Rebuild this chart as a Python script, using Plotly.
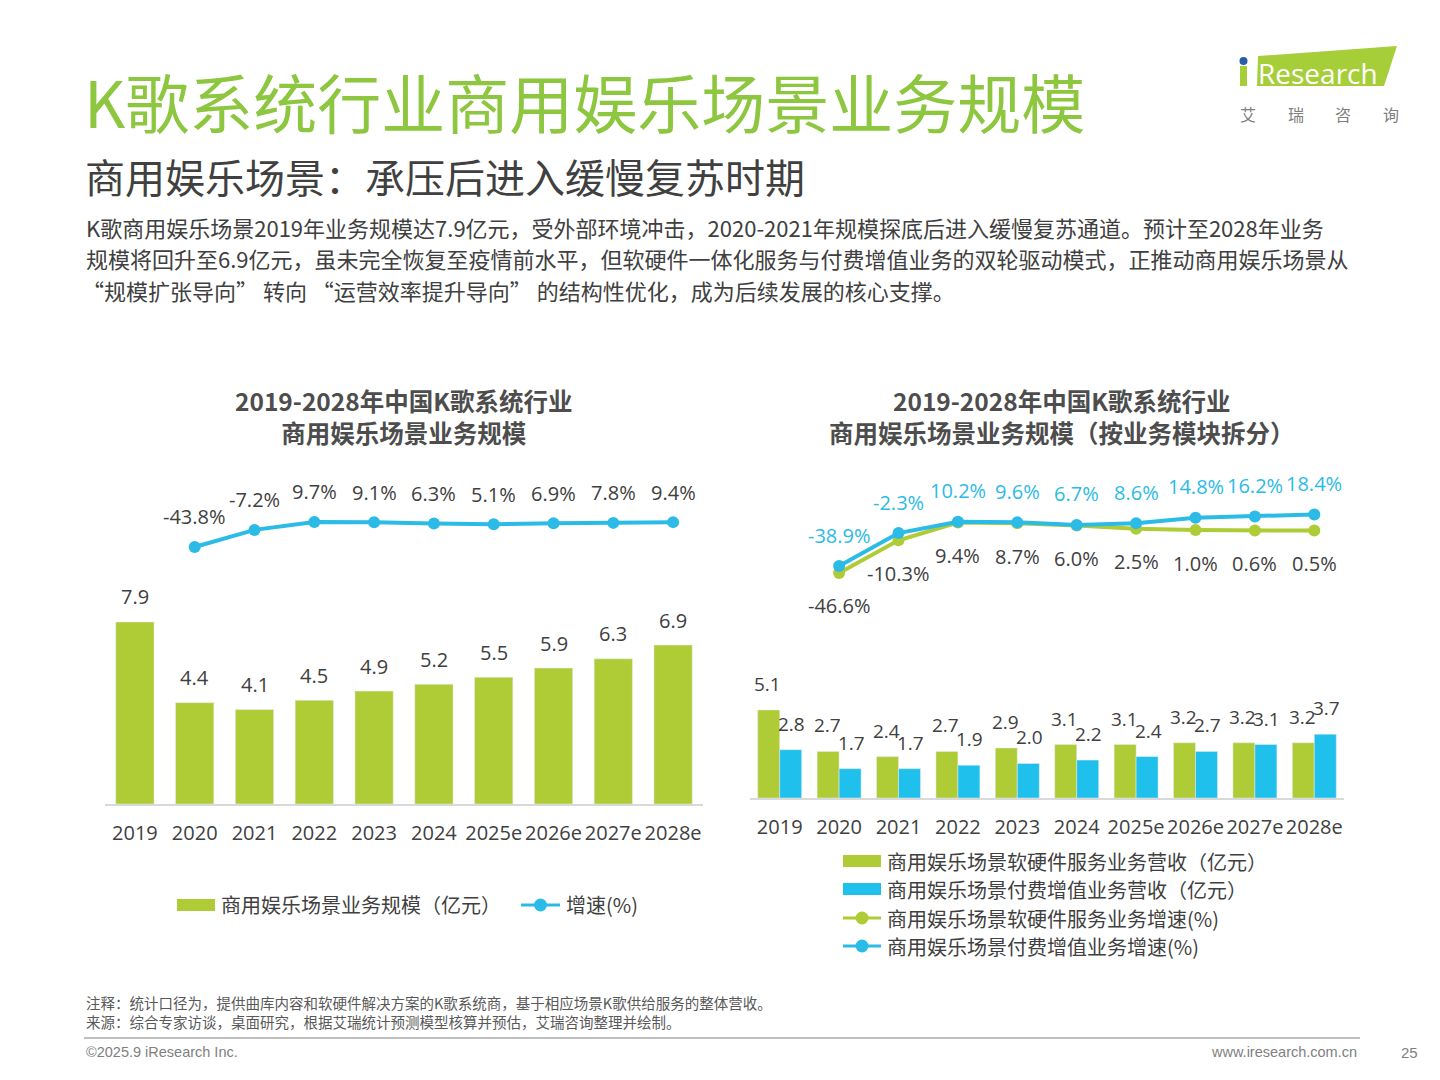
import plotly.graph_objects as go

W, H = 1440, 1080

# ---------------- data ----------------
years = ["2019", "2020", "2021", "2022", "2023", "2024", "2025e", "2026e", "2027e", "2028e"]
total_scale = [7.9, 4.4, 4.1, 4.5, 4.9, 5.2, 5.5, 5.9, 6.3, 6.9]
total_growth_years = years[1:]
total_growth = [-43.8, -7.2, 9.7, 9.1, 6.3, 5.1, 6.9, 7.8, 9.4]

hw_revenue = [5.1, 2.7, 2.4, 2.7, 2.9, 3.1, 3.1, 3.2, 3.2, 3.2]
vas_revenue = [2.8, 1.7, 1.7, 1.9, 2.0, 2.2, 2.4, 2.7, 3.1, 3.7]
hw_growth = [-46.6, -10.3, 9.4, 8.7, 6.0, 2.5, 1.0, 0.6, 0.5]
vas_growth = [-38.9, -2.3, 10.2, 9.6, 6.7, 8.6, 14.8, 16.2, 18.4]
growth_years_r = years[1:]

title = "K歌系统行业商用娱乐场景业务规模"
subtitle = "商用娱乐场景：承压后进入缓慢复苏时期"
paragraph = [
    "K歌商用娱乐场景2019年业务规模达7.9亿元，受外部环境冲击，2020-2021年规模探底后进入缓慢复苏通道。预计至2028年业务",
    "规模将回升至6.9亿元，虽未完全恢复至疫情前水平，但软硬件一体化服务与付费增值业务的双轮驱动模式，正推动商用娱乐场景从",
    "“规模扩张导向” 转向 “运营效率提升导向” 的结构性优化，成为后续发展的核心支撑。",
]
left_title = "2019-2028年中国K歌系统行业<br>商用娱乐场景业务规模"
right_title = "2019-2028年中国K歌系统行业<br>商用娱乐场景业务规模（按业务模块拆分）"
left_legend = ["商用娱乐场景业务规模（亿元）", "增速(%)"]
right_legend = ["商用娱乐场景软硬件服务业务营收（亿元）", "商用娱乐场景付费增值业务营收（亿元）",
                "商用娱乐场景软硬件服务业务增速(%)", "商用娱乐场景付费增值业务增速(%)"]
note1 = "注释：统计口径为，提供曲库内容和软硬件解决方案的K歌系统商，基于相应场景K歌供给服务的整体营收。"
note2 = "来源：综合专家访谈，桌面研究，根据艾瑞统计预测模型核算并预估，艾瑞咨询整理并绘制。"

# ---------------- styles ----------------
GREEN = "#AFCC37"
BLUE = "#1FC0EC"
LBLUE = "#2BBBE6"
DARK = "#404040"
FONT = "Open Sans, Noto Sans CJK SC, sans-serif"
CJK = "Noto Sans CJK SC, sans-serif"


def px(x):
    return x / W


def py(y):
    return 1 - y / H


idx = {c: i for i, c in enumerate(years)}

fig = go.Figure()

# left chart
fig.add_trace(go.Bar(x=years, y=total_scale, marker_color=GREEN, xaxis="x", yaxis="y",
                     name=left_legend[0], showlegend=False, width=0.64))
fig.add_trace(go.Scatter(x=total_growth_years, y=total_growth, mode="lines+markers",
                         line=dict(color=LBLUE, width=4), marker=dict(size=12, color=LBLUE),
                         xaxis="x", yaxis="y2", name=left_legend[1], showlegend=False))
# right chart
fig.add_trace(go.Bar(x=years, y=hw_revenue, marker_color=GREEN, xaxis="x2", yaxis="y3",
                     name=right_legend[0], showlegend=False, width=0.37, offset=-0.37))
fig.add_trace(go.Bar(x=years, y=vas_revenue, marker_color=BLUE, xaxis="x2", yaxis="y3",
                     name=right_legend[1], showlegend=False, width=0.37, offset=0.0))
fig.add_trace(go.Scatter(x=growth_years_r, y=hw_growth, mode="lines+markers",
                         line=dict(color=GREEN, width=4), marker=dict(size=12, color=GREEN),
                         xaxis="x2", yaxis="y4", name=right_legend[2], showlegend=False))
fig.add_trace(go.Scatter(x=growth_years_r, y=vas_growth, mode="lines+markers",
                         line=dict(color=LBLUE, width=4), marker=dict(size=12, color=LBLUE),
                         xaxis="x2", yaxis="y4", name=right_legend[3], showlegend=False))

ann = []
# bar labels left
for c, v in zip(years, total_scale):
    ann.append(dict(x=idx[c], y=v, xref="x", yref="y", text=f"{v:.1f}", showarrow=False,
                    yanchor="middle", yshift=25, font=dict(size=20, color=DARK, family=FONT)))
for c, v in zip(total_growth_years, total_growth):
    ann.append(dict(x=idx[c], y=v, xref="x", yref="y2", text=f"{v:.1f}%", showarrow=False,
                    yanchor="middle", yshift=30, font=dict(size=20, color=DARK, family=FONT)))
# right labels
for c, v in zip(years, hw_revenue):
    ann.append(dict(x=idx[c], y=v, xref="x2", yref="y3", text=f"{v:.1f}", showarrow=False,
                    xshift=-12, yanchor="middle", yshift=26, font=dict(size=19, color=DARK, family=FONT)))
for c, v in zip(years, vas_revenue):
    ann.append(dict(x=idx[c], y=v, xref="x2", yref="y3", text=f"{v:.1f}", showarrow=False,
                    xshift=12, yanchor="middle", yshift=26, font=dict(size=19, color=DARK, family=FONT)))
for c, v in zip(growth_years_r, vas_growth):
    ann.append(dict(x=idx[c], y=v, xref="x2", yref="y4", text=f"{v:.1f}%", showarrow=False,
                    yanchor="middle", yshift=31, font=dict(size=20, color=LBLUE, family=FONT)))
for c, v in zip(growth_years_r, hw_growth):
    ann.append(dict(x=idx[c], y=v, xref="x2", yref="y4", text=f"{v:.1f}%", showarrow=False,
                    yanchor="middle", yshift=-33, font=dict(size=20, color=DARK, family=FONT)))


def text(x, y, s, size, color=DARK, xanchor="left", family=CJK, bold=False):
    if bold:
        s = f"<b>{s}</b>"
    ann.append(dict(x=px(x), y=py(y), xref="paper", yref="paper", text=s, showarrow=False,
                    xanchor=xanchor, yanchor="middle", align="center",
                    font=dict(size=size, color=color, family=family)))


# header texts
text(82, 100, title, 64, color="#8DC63F")
text(83, 176, subtitle, 40, color=DARK)
for i, line in enumerate(paragraph):
    text(84 if i < 2 else 80, 227 + i * 31.5, line, 22, color=DARK)

# chart titles
ann.append(dict(x=px(404), y=py(416), xref="paper", yref="paper", text=f"<b>{left_title}</b>",
                showarrow=False, xanchor="center", yanchor="middle", align="center",
                font=dict(size=24.5, color="#4D4D4D", family=CJK)))
ann.append(dict(x=px(1062), y=py(416), xref="paper", yref="paper", text=f"<b>{right_title}</b>",
                showarrow=False, xanchor="center", yanchor="middle", align="center",
                font=dict(size=24.5, color="#4D4D4D", family=CJK)))

shapes = []
# left legend
shapes.append(dict(type="rect", xref="paper", yref="paper", x0=px(177), x1=px(215), y0=py(911), y1=py(899),
                   fillcolor=GREEN, line=dict(width=0)))
text(219, 905, left_legend[0], 20)
shapes.append(dict(type="line", xref="paper", yref="paper", x0=px(521), x1=px(560), y0=py(905), y1=py(905),
                   line=dict(color=LBLUE, width=3)))
shapes.append(dict(type="circle", xref="paper", yref="paper", x0=px(534), x1=px(547), y0=py(911.5), y1=py(898.5),
                   fillcolor=LBLUE, line=dict(width=0)))
text(564, 905, left_legend[1], 20)

# right legend
rows = [861, 889, 918, 946]
for i, (yy, lab) in enumerate(zip(rows, right_legend)):
    if i < 2:
        shapes.append(dict(type="rect", xref="paper", yref="paper", x0=px(843), x1=px(881), y0=py(yy + 6), y1=py(yy - 6),
                           fillcolor=GREEN if i == 0 else BLUE, line=dict(width=0)))
    else:
        col = GREEN if i == 2 else LBLUE
        shapes.append(dict(type="line", xref="paper", yref="paper", x0=px(843), x1=px(881), y0=py(yy), y1=py(yy),
                           line=dict(color=col, width=3)))
        shapes.append(dict(type="circle", xref="paper", yref="paper", x0=px(855.5), x1=px(868.5), y0=py(yy + 6.5),
                           y1=py(yy - 6.5), fillcolor=col, line=dict(width=0)))
    text(885, yy, lab, 20)

# footer
text(84, 1002, note1, 14.5, color="#595959")
text(84, 1021, note2, 14.5, color="#595959")
shapes.append(dict(type="line", xref="paper", yref="paper", x0=px(84), x1=px(1360), y0=py(1038), y1=py(1038),
                   line=dict(color="#BFBFBF", width=2)))
text(84, 1052, "©2025.9 iResearch Inc.", 14.5, color="#7F7F7F", family="Liberation Sans Narrow, Liberation Sans, sans-serif")
text(1359, 1052, "www.iresearch.com.cn", 14.5, color="#7F7F7F", xanchor="right",
     family="Liberation Sans Narrow, Liberation Sans, sans-serif")
text(1420, 1052, "25", 15, color="#7F7F7F", xanchor="right",
     family="Liberation Sans Narrow, Liberation Sans, sans-serif")

# logo
shapes.append(dict(type="path", xref="paper", yref="paper",
                   path=f"M {px(1258)} {py(56)} L {px(1397)} {py(46)} L {px(1384)} {py(86)} L {px(1257)} {py(86)} Z",
                   fillcolor="#A6CE39", line=dict(width=0)))
shapes.append(dict(type="rect", xref="paper", yref="paper", x0=px(1240), x1=px(1247), y0=py(86), y1=py(66),
                   fillcolor="#A6CE39", line=dict(width=0)))
shapes.append(dict(type="circle", xref="paper", yref="paper", x0=px(1239.5), x1=px(1247.5), y0=py(65), y1=py(57),
                   fillcolor="#2A5CAA", line=dict(width=0)))
text(1318, 73, "Research", 28, color="white", xanchor="center", family="Open Sans, sans-serif")
for i, ch in enumerate("艾瑞咨询"):
    text(1248 + i * 47.5, 114, ch, 16, color="#7F7F7F", xanchor="center")

fig.update_layout(
    width=W, height=H, margin=dict(l=0, r=0, t=0, b=0),
    paper_bgcolor="white", plot_bgcolor="rgba(0,0,0,0)",
    showlegend=False, barmode="overlay",
    font=dict(family=FONT, color=DARK),
    xaxis=dict(domain=[px(105), px(703)], anchor="y", type="category", range=[-0.5, 9.5],
               categoryorder="array", categoryarray=years, showgrid=False,
               showline=True, linecolor="#D9D9D9", linewidth=2, ticks="",
               tickfont=dict(size=20, color=DARK, family=FONT), ticklabelstandoff=10),
    yaxis=dict(domain=[py(804), py(470)], range=[0, 14.497], visible=False, showgrid=False, zeroline=False),
    yaxis2=dict(domain=[py(804), py(470)], range=[-594, 121], overlaying="y", visible=False,
                showgrid=False, zeroline=False),
    xaxis2=dict(domain=[px(750), px(1344)], anchor="y3", type="category", range=[-0.5, 9.5],
                categoryorder="array", categoryarray=years, showgrid=False,
                showline=True, linecolor="#D9D9D9", linewidth=2, ticks="",
                tickfont=dict(size=20, color=DARK, family=FONT), ticklabelstandoff=10),
    yaxis3=dict(domain=[py(798), py(470)], range=[0, 19.01], visible=False, showgrid=False, zeroline=False,
                anchor="x2"),
    yaxis4=dict(domain=[py(798), py(470)], range=[-296.7, 67.8], overlaying="y3", visible=False,
                showgrid=False, zeroline=False, anchor="x2"),
    annotations=ann, shapes=shapes,
)

fig.write_html("out.html")
